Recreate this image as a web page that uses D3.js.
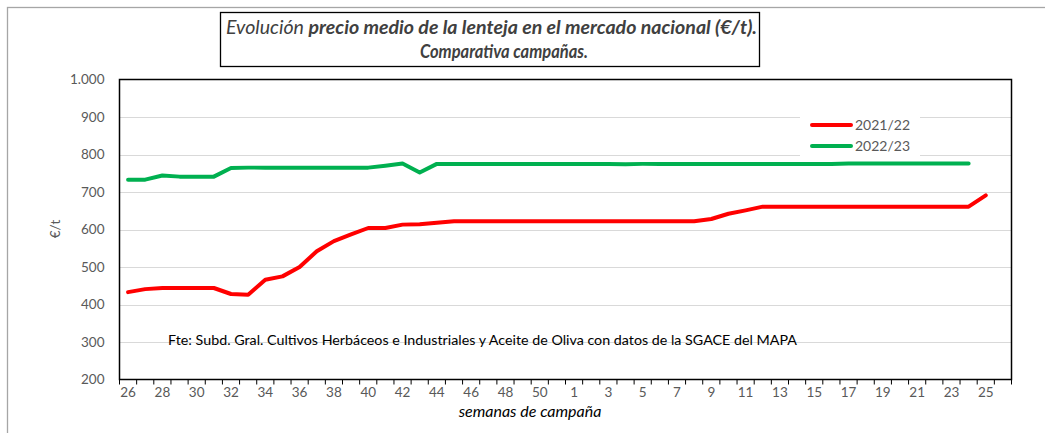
<!DOCTYPE html>
<html lang="es">
<head>
<meta charset="UTF-8">
<title>Precio medio lenteja</title>
<script src="https://d3js.org/d3.v7.min.js"></script>
<style>
  body { margin: 0; background: #fff; }
  svg text { font-family: Lato, "Open Sans", sans-serif; }
</style>
</head>
<body>
<svg id="chart" width="1045" height="433"></svg>
<script>
// semanas de campaña (26 ... 51, 1 ... 26)
const weeks = [26, 27, 28, 29, 30, 31, 32, 33, 34, 35, 36, 37, 38, 39, 40, 41, 42, 43, 44, 45, 46, 47, 48, 49, 50, 51,
               1, 2, 3, 4, 5, 6, 7, 8, 9, 10, 11, 12, 13, 14, 15, 16, 17, 18, 19, 20, 21, 22, 23, 24, 25, 26];

// precio medio €/t, campaña 2021/22
const price2122 = [433, 441, 444, 444, 444, 444, 428, 426, 466, 475, 500, 542, 569, 587, 604, 604, 613, 614, 618, 622,
                   622, 622, 622, 622, 622, 622, 622, 622, 622, 622, 622, 622, 622, 622, 628, 642, 651, 661,
                   661, 661, 661, 661, 661, 661, 661, 661, 661, 661, 661, 661, 691, null];

// precio medio €/t, campaña 2022/23
const price2223 = [733, 733, 744, 741, 741, 741, 764, 765, 765, 765, 765, 765, 765, 765, 765, 770, 776, 752, 775, 775,
                   775, 775, 775, 775, 775, 775, 775, 775, 775, 774, 775, 775, 775, 775, 775, 775, 775, 775,
                   775, 775, 775, 775, 776, 776, 776, 776, 776, 776, 776, 776, null, null];

const yTicks = [200, 300, 400, 500, 600, 700, 800, 900, 1000];

const series = [
  { name: "2021/22", values: price2122, color: "#ff0000" },
  { name: "2022/23", values: price2223, color: "#00b050" }
];

const svg = d3.select("#chart");
const pLeft = 119.5, pRight = 1011.5, pTop = 79.5, pBottom = 379.5;

// marco exterior
svg.append("rect")
  .attr("x", 7.5).attr("y", 7.5)
  .attr("width", 1060).attr("height", 460)
  .attr("fill", "#fff").attr("stroke", "#a6a6a6").attr("stroke-width", 1.3);

const x = d3.scaleBand()
  .domain(d3.range(weeks.length))
  .range([pLeft, pRight])
  .padding(0);

const y = d3.scaleLinear()
  .domain([200, 1000])
  .range([pBottom, pTop]);

// gridlines
svg.append("g")
  .selectAll("line")
  .data(yTicks.slice(1, -1))
  .join("line")
  .attr("x1", pLeft).attr("x2", pRight)
  .attr("y1", d => Math.round(y(d)) + 0.5).attr("y2", d => Math.round(y(d)) + 0.5)
  .attr("stroke", "#d9d9d9").attr("stroke-width", 1);

// eje y labels
const yAxis = d3.axisLeft(y)
  .tickValues(yTicks)
  .tickSize(0)
  .tickPadding(15)
  .tickFormat(d => d3.format(",")(d).replace(",", "."));

svg.append("g")
  .attr("transform", `translate(${pLeft},0)`)
  .call(yAxis)
  .call(g => g.select(".domain").remove())
  .call(g => g.selectAll("text")
    .attr("fill", "#595959").style("font-size", "13.5px"));

// eje x
const xAxis = d3.axisBottom(x)
  .tickValues(d3.range(0, weeks.length, 2))
  .tickSize(0)
  .tickPadding(8)
  .tickFormat(i => weeks[i]);

svg.append("g")
  .attr("transform", `translate(0,${pBottom})`)
  .call(xAxis)
  .call(g => g.select(".domain").remove())
  .call(g => g.selectAll("text")
    .attr("fill", "#595959").style("font-size", "13.5px"));

// tick marks at category boundaries
svg.append("g")
  .selectAll("line")
  .data(d3.range(weeks.length + 1))
  .join("line")
  .attr("x1", i => i < weeks.length ? x(i) : pRight)
  .attr("x2", i => i < weeks.length ? x(i) : pRight)
  .attr("y1", pBottom).attr("y2", pBottom + 5)
  .attr("stroke", "#000").attr("stroke-width", 1);

// marco del área de trazado
svg.append("rect")
  .attr("x", pLeft).attr("y", pTop)
  .attr("width", pRight - pLeft).attr("height", pBottom - pTop)
  .attr("fill", "none").attr("stroke", "#000").attr("stroke-width", 1.5);

// lineas
const line = d3.line()
  .defined(d => d != null)
  .x((d, i) => x(i) + x.bandwidth() / 2)
  .y(d => y(d));

svg.append("g")
  .selectAll("path")
  .data(series)
  .join("path")
  .attr("d", s => line(s.values))
  .attr("fill", "none")
  .attr("stroke", s => s.color)
  .attr("stroke-width", 4)
  .attr("stroke-linejoin", "round")
  .attr("stroke-linecap", "round");

// leyenda
const legend = svg.append("g");
legend.append("rect")
  .attr("x", 800).attr("y", 110).attr("width", 120).attr("height", 48)
  .attr("fill", "#fff");
series.forEach((s, k) => {
  const ly = 125 + k * 21;
  legend.append("line")
    .attr("x1", 812).attr("x2", 851).attr("y1", ly).attr("y2", ly)
    .attr("stroke", s.color).attr("stroke-width", 4).attr("stroke-linecap", "round");
  legend.append("text")
    .attr("x", 855).attr("y", ly + 5)
    .attr("fill", "#595959").style("font-size", "14px")
    .text(s.name);
});

// fuente
svg.append("text")
  .attr("x", 168).attr("y", 345)
  .attr("textLength", 629).attr("lengthAdjust", "spacingAndGlyphs")
  .style("font-size", "13.5px").attr("fill", "#000")
  .text("Fte: Subd. Gral. Cultivos Herbáceos e Industriales y Aceite de Oliva con datos de la SGACE del MAPA");

// titulos de ejes
svg.append("text")
  .attr("transform", "translate(60,229) rotate(-90)")
  .attr("text-anchor", "middle")
  .attr("fill", "#595959").style("font-size", "13.5px")
  .text("€/t");

svg.append("text")
  .attr("x", 530).attr("y", 417)
  .attr("text-anchor", "middle")
  .style("font-size", "16px").style("font-style", "italic")
  .attr("fill", "#000")
  .text("semanas de campaña");

// titulo
svg.append("rect")
  .attr("x", 220.5).attr("y", 12.5).attr("width", 539).attr("height", 54)
  .attr("fill", "#fff").attr("stroke", "#000").attr("stroke-width", 1.3);

const t1 = svg.append("text")
  .attr("x", 226).attr("y", 34)
  .attr("textLength", 531).attr("lengthAdjust", "spacingAndGlyphs")
  .style("font-size", "18.5px").style("font-style", "italic").attr("fill", "#404040");
t1.append("tspan").text("Evolución ");
t1.append("tspan").style("font-weight", "bold").text("precio medio de la lenteja en el mercado nacional (€/t).");

svg.append("text")
  .attr("x", 420).attr("y", 58)
  .attr("textLength", 168).attr("lengthAdjust", "spacingAndGlyphs")
  .style("font-size", "18px").style("font-style", "italic").style("font-weight", "bold")
  .attr("fill", "#404040")
  .text("Comparativa campañas.");
</script>
</body>
</html>
